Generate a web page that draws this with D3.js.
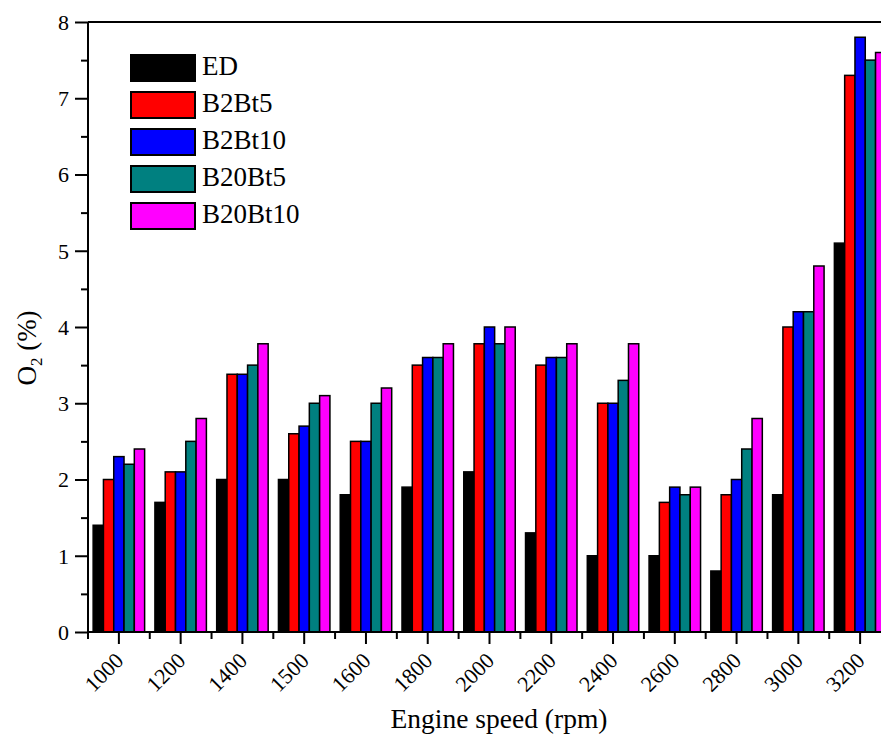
<!DOCTYPE html>
<html>
<head>
<meta charset="utf-8">
<script src="https://cdn.jsdelivr.net/npm/d3@7/dist/d3.min.js"></script>
</head>
<body style="margin:0;background:#fff">
<svg id="chart" width="881" height="735" style="display:block"></svg>
<script>
// Engine speed categories (rpm)
const speeds = [1000, 1200, 1400, 1500, 1600, 1800, 2000, 2200, 2400, 2600, 2800, 3000, 3200];

// O2 concentration (%) for each fuel blend
const ED      = [1.4, 1.7, 2.0, 2.0, 1.8, 1.9, 2.1, 1.3, 1.0, 1.0, 0.8, 1.8, 5.1];
const B2Bt5   = [2.0, 2.1, 3.38, 2.6, 2.5, 3.5, 3.78, 3.5, 3.0, 1.7, 1.8, 4.0, 7.3];
const B2Bt10  = [2.3, 2.1, 3.38, 2.7, 2.5, 3.6, 4.0, 3.6, 3.0, 1.9, 2.0, 4.2, 7.8];
const B20Bt5  = [2.2, 2.5, 3.5, 3.0, 3.0, 3.6, 3.78, 3.6, 3.3, 1.8, 2.4, 4.2, 7.5];
const B20Bt10 = [2.4, 2.8, 3.78, 3.1, 3.2, 3.78, 4.0, 3.78, 3.78, 1.9, 2.8, 4.8, 7.6];

const seriesNames = ["ED", "B2Bt5", "B2Bt10", "B20Bt5", "B20Bt10"];
const seriesValues = [ED, B2Bt5, B2Bt10, B20Bt5, B20Bt10];
const seriesColors = ["#000000", "#ff0000", "#0000ff", "#008080", "#ff00ff"];

const yTicks = [0, 1, 2, 3, 4, 5, 6, 7, 8];
const yMinorTicks = [0.5, 1.5, 2.5, 3.5, 4.5, 5.5, 6.5, 7.5];

const FONT = '"Liberation Serif", serif';
const svg = d3.select("#chart");

// Plot frame (right edge runs past the window)
const plotLeft = 88, plotTop = 22, plotBottom = 632, plotRight = 891;

const x = d3.scaleBand()
  .domain(speeds)
  .range([plotLeft, plotRight])
  .paddingInner(1 / 6)
  .paddingOuter(1 / 12);

const xOuter = d3.scaleBand().domain(speeds).range([plotLeft, plotRight]);

const xInner = d3.scaleBand()
  .domain(seriesNames)
  .range([0, x.bandwidth()])
  .padding(0);

const y = d3.scaleLinear().domain([0, 8]).range([plotBottom, plotTop]);

// Bars
const groups = svg.append("g")
  .selectAll("g")
  .data(speeds)
  .join("g")
  .attr("transform", d => `translate(${x(d)},0)`);

groups.selectAll("rect")
  .data((d, i) => seriesNames.map((s, k) => ({ s, k, v: seriesValues[k][i] })))
  .join("rect")
  .attr("x", d => xInner(d.s))
  .attr("width", xInner.bandwidth())
  .attr("y", d => y(d.v))
  .attr("height", d => y(0) - y(d.v))
  .attr("fill", d => seriesColors[d.k])
  .attr("stroke", "#000")
  .attr("stroke-width", 1.5);

// Top border
svg.append("line")
  .attr("x1", plotLeft).attr("x2", 881)
  .attr("y1", plotTop).attr("y2", plotTop)
  .attr("stroke", "#000").attr("stroke-width", 2);

// Y axis
const yAxis = d3.axisLeft(y)
  .tickValues(yTicks)
  .tickSize(13)
  .tickPadding(6)
  .tickFormat(d3.format("d"));

const yG = svg.append("g")
  .attr("transform", `translate(${plotLeft},0)`)
  .call(yAxis);
yG.select(".domain").attr("stroke-width", 2).attr("d", `M0,${plotTop}V${plotBottom}`);
yG.selectAll(".tick line").attr("stroke-width", 2);
yG.selectAll(".tick text")
  .style("font-family", FONT)
  .style("font-size", "22px")
  .attr("fill", "#000")
  .attr("dy", "0.34em");

const yMinor = d3.axisLeft(y).tickValues(yMinorTicks).tickSize(7).tickFormat("");
const yMinorG = svg.append("g").attr("transform", `translate(${plotLeft},0)`).call(yMinor);
yMinorG.select(".domain").remove();
yMinorG.selectAll(".tick line").attr("stroke-width", 2);

// X axis: major ticks at group centres, minor ticks at group boundaries
const xAxis = d3.axisBottom(xOuter).tickSize(12).tickPadding(4);
const xG = svg.append("g")
  .attr("transform", `translate(0,${plotBottom})`)
  .call(xAxis);
xG.select(".domain").attr("stroke-width", 2).attr("d", `M${plotLeft},0H${plotRight}`);
xG.selectAll(".tick line").attr("stroke-width", 2);
xG.selectAll(".tick text")
  .style("font-family", FONT)
  .style("font-size", "22px")
  .attr("fill", "#000")
  .attr("text-anchor", "end")
  .attr("dy", null)
  .attr("y", 0)
  .attr("transform", "translate(6,30) rotate(-45)");

const boundaries = speeds.map(s => xOuter(s));
svg.append("g")
  .selectAll("line")
  .data(boundaries)
  .join("line")
  .attr("x1", d => d).attr("x2", d => d)
  .attr("y1", plotBottom).attr("y2", plotBottom + 7)
  .attr("stroke", "#000").attr("stroke-width", 2);

// Axis titles
svg.append("text")
  .attr("x", 499)
  .attr("y", 728)
  .attr("text-anchor", "middle")
  .style("font-family", FONT)
  .style("font-size", "27.5px")
  .text("Engine speed (rpm)");

const yTitle = svg.append("text")
  .attr("transform", "translate(36,348) rotate(-90)")
  .attr("text-anchor", "middle")
  .style("font-family", FONT)
  .style("font-size", "27px");
yTitle.append("tspan").text("O");
yTitle.append("tspan").attr("dy", 6).style("font-size", "17px").text("2");
yTitle.append("tspan").attr("dy", -6).text(" (%)");

// Legend
const legend = svg.append("g").attr("transform", "translate(131,55)");
const rows = legend.selectAll("g")
  .data(seriesNames)
  .join("g")
  .attr("transform", (d, i) => `translate(0,${i * 37})`);
rows.append("rect")
  .attr("width", 64)
  .attr("height", 26)
  .attr("fill", (d, i) => seriesColors[i])
  .attr("stroke", "#000")
  .attr("stroke-width", 2);
rows.append("text")
  .attr("x", 71)
  .attr("y", 20)
  .style("font-family", FONT)
  .style("font-size", "27px")
  .text(d => d);
</script>
</body>
</html>
